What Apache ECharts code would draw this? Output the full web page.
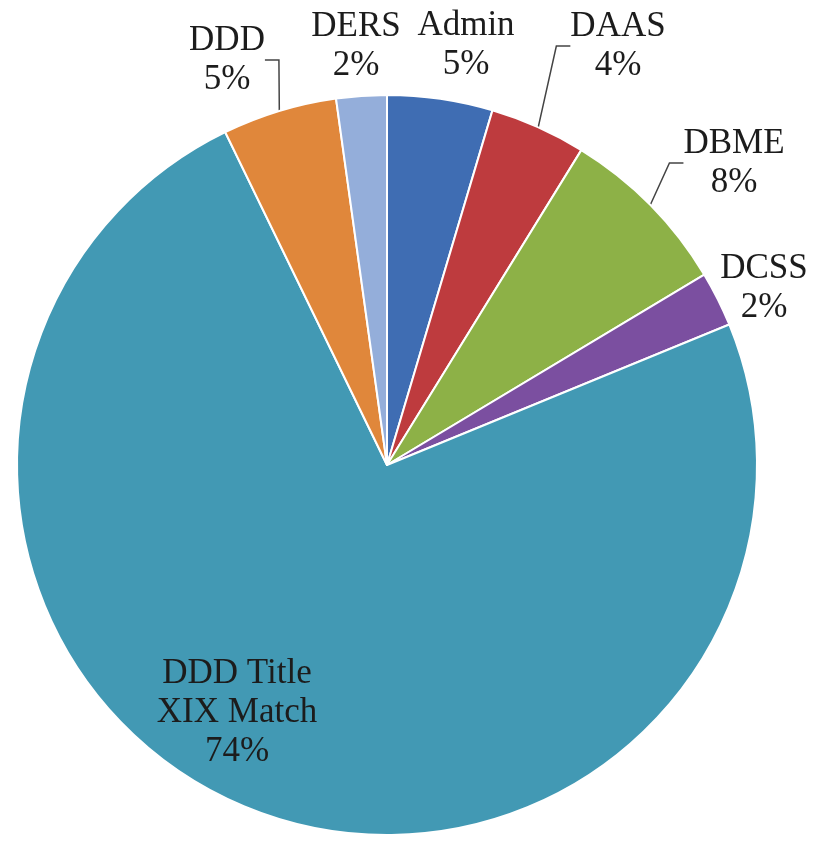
<!DOCTYPE html>
<html>
<head>
<meta charset="utf-8">
<script src="https://cdn.jsdelivr.net/npm/echarts@6/dist/echarts.min.js"></script>
<style>
html,body{margin:0;padding:0;background:#fff;}
#chart{width:815px;height:841px;}
</style>
</head>
<body>
<div id="chart"></div>
<script>
// Data
var categories = ['Admin', 'DAAS', 'DBME', 'DCSS', 'DDD Title\nXIX Match', 'DDD', 'DERS'];
var values = [4.6, 4.2, 7.6, 2.4, 74.0, 5.0, 2.2];
var colors = ['#3F6DB3', '#BE3B3E', '#8DB147', '#7B4FA0', '#4299B4', '#E0873B', '#94AEDA'];

// Label placement (style/layout only)
var labelPos = [[466, 45], [618, 46], [734, 163], [764, 288], [237, 713], [227, 60], [356, 46]];
var showLine = [false, true, true, false, false, true, false];

var chart = echarts.init(document.getElementById('chart'), null, {renderer: 'canvas'});

var data = categories.map(function (c, i) {
  return {
    name: c,
    value: values[i],
    itemStyle: {color: colors[i]},
    labelLine: {show: showLine[i]}
  };
});

chart.setOption({
  animation: false,
  series: [{
    type: 'pie',
    center: [387, 465],
    radius: 370,
    startAngle: 90,
    clockwise: true,
    percentPrecision: 0,
    avoidLabelOverlap: false,
    data: data,
    itemStyle: {borderColor: '#ffffff', borderWidth: 2},
    label: {
      show: true,
      position: 'outside',
      formatter: '{b}\n{d}%',
      fontFamily: '"Liberation Serif", "Times New Roman", serif',
      fontSize: 35,
      lineHeight: 39,
      color: '#1c1c1c',
      align: 'center'
    },
    labelLine: {
      show: true,
      length: 10,
      length2: 14,
      lineStyle: {color: '#444444', width: 1.5}
    },
    labelLayout: function (params) {
      var p = labelPos[params.dataIndex];
      return {x: p[0], y: p[1], align: 'center', verticalAlign: 'middle'};
    }
  }]
});
</script>
</body>
</html>
